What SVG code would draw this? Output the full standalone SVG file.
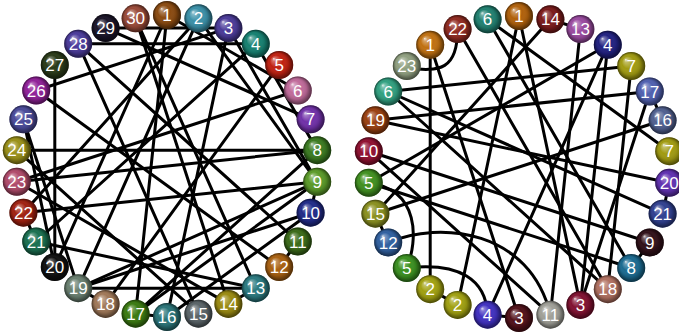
<svg xmlns="http://www.w3.org/2000/svg" width="679" height="335" viewBox="0 0 679 335">
<defs>
<radialGradient id="hl" cx="0.5" cy="0.5" r="0.5" fx="0.3" fy="0.27">
<stop offset="0" stop-color="#fff" stop-opacity="0.85"/>
<stop offset="0.14" stop-color="#fff" stop-opacity="0.35"/>
<stop offset="0.45" stop-color="#fff" stop-opacity="0"/>
<stop offset="0.75" stop-color="#000" stop-opacity="0.12"/>
<stop offset="1" stop-color="#000" stop-opacity="0.55"/>
</radialGradient>
<style>
.e{stroke:#000;stroke-width:3;fill:none;stroke-linecap:round}
.s{fill:url(#hl)}
text{font-family:"Liberation Sans",Arial,sans-serif;font-size:17px;fill:#fff;text-anchor:middle}
</style>
</defs>
<rect width="679" height="335" fill="#fff"/>
<g id="left-connectors">
<line class="e" x1="78.2" y1="288.2" x2="255.8" y2="288.2"/>
<line class="e" x1="78.2" y1="43.8" x2="198.4" y2="313.7"/>
<line class="e" x1="16.8" y1="181.8" x2="317.2" y2="150.2"/>
<line class="e" x1="16.8" y1="150.2" x2="317.2" y2="150.2"/>
<line class="e" x1="78.2" y1="288.2" x2="310.6" y2="212.7"/>
<line class="e" x1="78.2" y1="288.2" x2="317.2" y2="181.8"/>
<line class="e" x1="36.2" y1="241.5" x2="255.8" y2="288.2"/>
<line class="e" x1="135.6" y1="18.3" x2="255.8" y2="288.2"/>
<line class="e" x1="135.6" y1="18.3" x2="228.4" y2="303.9"/>
<line class="e" x1="23.4" y1="212.7" x2="317.2" y2="181.8"/>
<line class="e" x1="135.6" y1="313.7" x2="317.2" y2="150.2"/>
<line class="e" x1="167" y1="317" x2="310.6" y2="212.7"/>
<line class="e" x1="135.6" y1="313.7" x2="317.2" y2="181.8"/>
<line class="e" x1="105.6" y1="28.1" x2="228.4" y2="28.1"/>
<line class="e" x1="78.2" y1="43.8" x2="255.8" y2="43.8"/>
<line class="e" x1="167" y1="15" x2="54.8" y2="267"/>
<line class="e" x1="198.4" y1="18.3" x2="78.2" y2="288.2"/>
<line class="e" x1="23.4" y1="119.3" x2="54.8" y2="267"/>
<line class="e" x1="54.8" y1="65" x2="54.8" y2="267"/>
<line class="e" x1="228.4" y1="28.1" x2="167" y2="317"/>
<line class="e" x1="255.8" y1="43.8" x2="36.2" y2="241.5"/>
<line class="e" x1="279.2" y1="65" x2="105.6" y2="303.9"/>
<line class="e" x1="297.8" y1="90.5" x2="16.8" y2="181.8"/>
<line class="e" x1="105.6" y1="28.1" x2="310.6" y2="119.3"/>
<line class="e" x1="198.4" y1="18.3" x2="317.2" y2="181.8"/>
<line class="e" x1="255.8" y1="43.8" x2="317.2" y2="150.2"/>
<line class="e" x1="228.4" y1="28.1" x2="317.2" y2="181.8"/>
<line class="e" x1="167" y1="15" x2="297.8" y2="90.5"/>
<line class="e" x1="36.2" y1="90.5" x2="228.4" y2="28.1"/>
<line class="e" x1="279.2" y1="267" x2="36.2" y2="90.5"/>
<line class="e" x1="16.8" y1="181.8" x2="228.4" y2="303.9"/>
<line class="e" x1="16.8" y1="150.2" x2="198.4" y2="313.7"/>
<line class="e" x1="297.8" y1="241.5" x2="279.2" y2="267"/>
<line class="e" x1="317.2" y1="181.8" x2="310.6" y2="212.7"/>
<line class="e" x1="255.8" y1="288.2" x2="228.4" y2="303.9"/>
<line class="e" x1="167" y1="15" x2="135.6" y2="313.7"/>
<line class="e" x1="198.4" y1="18.3" x2="23.4" y2="212.7"/>
<line class="e" x1="23.4" y1="119.3" x2="78.2" y2="288.2"/>
<line class="e" x1="78.2" y1="43.8" x2="297.8" y2="241.5"/>
<line class="e" x1="167" y1="317" x2="135.6" y2="313.7"/>
<line class="e" x1="105.6" y1="303.9" x2="78.2" y2="288.2"/>
<line class="e" x1="36.2" y1="241.5" x2="23.4" y2="212.7"/>
</g>
<g id="right-connectors">
<path class="e" d="M457.6,29.1 C457.6,70 440,72 406.8,68"/>
<path class="e" d="M368.8,182.8 C420,190 418,240 406.8,268"/>
<path class="e" d="M406.8,268 C460,262 486,280 487.6,314.7"/>
<path class="e" d="M388.2,242.5 C440,220 530,230 550.4,314.7"/>
<line class="e" x1="430.2" y1="44.8" x2="430.2" y2="289.2"/>
<line class="e" x1="430.2" y1="44.8" x2="519" y2="318"/>
<line class="e" x1="487.6" y1="19.3" x2="669.2" y2="151.2"/>
<line class="e" x1="487.6" y1="19.3" x2="631.2" y2="268"/>
<line class="e" x1="519" y1="16" x2="457.6" y2="304.9"/>
<line class="e" x1="519" y1="16" x2="580.4" y2="304.9"/>
<line class="e" x1="550.4" y1="19.3" x2="580.4" y2="29.1"/>
<line class="e" x1="550.4" y1="19.3" x2="375.4" y2="213.7"/>
<line class="e" x1="580.4" y1="29.1" x2="550.4" y2="314.7"/>
<line class="e" x1="607.8" y1="44.8" x2="368.8" y2="182.8"/>
<line class="e" x1="607.8" y1="44.8" x2="487.6" y2="314.7"/>
<line class="e" x1="607.8" y1="44.8" x2="580.4" y2="304.9"/>
<line class="e" x1="631.2" y1="66" x2="607.8" y2="289.2"/>
<line class="e" x1="631.2" y1="66" x2="388.2" y2="91.5"/>
<line class="e" x1="649.8" y1="91.5" x2="375.4" y2="120.3"/>
<line class="e" x1="649.8" y1="91.5" x2="662.6" y2="120.3"/>
<line class="e" x1="662.6" y1="120.3" x2="375.4" y2="213.7"/>
<line class="e" x1="375.4" y1="120.3" x2="669.2" y2="182.8"/>
<line class="e" x1="669.2" y1="182.8" x2="662.6" y2="213.7"/>
<line class="e" x1="388.2" y1="91.5" x2="607.8" y2="289.2"/>
<line class="e" x1="388.2" y1="91.5" x2="662.6" y2="213.7"/>
<line class="e" x1="368.8" y1="182.8" x2="631.2" y2="268"/>
<line class="e" x1="375.4" y1="213.7" x2="388.2" y2="242.5"/>
<line class="e" x1="457.6" y1="304.9" x2="430.2" y2="289.2"/>
<line class="e" x1="487.6" y1="314.7" x2="519" y2="318"/>
<line class="e" x1="368.8" y1="151.2" x2="649.8" y2="242.5"/>
<line class="e" x1="649.8" y1="242.5" x2="631.2" y2="268"/>
<line class="e" x1="457.6" y1="29.1" x2="607.8" y2="289.2"/>
<line class="e" x1="368.8" y1="151.2" x2="550.4" y2="314.7"/>
<line class="e" x1="649.8" y1="91.5" x2="580.4" y2="304.9"/>
</g>
<g id="L1"><circle cx="167" cy="15" r="14" fill="#8a4a10"/><circle class="s" cx="167" cy="15" r="14"/><text x="167" y="21">1</text></g>
<g id="L2"><circle cx="198.4" cy="18.3" r="14" fill="#3a90a8"/><circle class="s" cx="198.4" cy="18.3" r="14"/><text x="198.4" y="24.3">2</text></g>
<g id="L3"><circle cx="228.4" cy="28.1" r="14" fill="#4a3a98"/><circle class="s" cx="228.4" cy="28.1" r="14"/><text x="228.4" y="34.1">3</text></g>
<g id="L4"><circle cx="255.8" cy="43.8" r="14" fill="#158070"/><circle class="s" cx="255.8" cy="43.8" r="14"/><text x="255.8" y="49.8">4</text></g>
<g id="L5"><circle cx="279.2" cy="65" r="14" fill="#c02010"/><circle class="s" cx="279.2" cy="65" r="14"/><text x="279.2" y="71">5</text></g>
<g id="L6"><circle cx="297.8" cy="90.5" r="14" fill="#c06a9a"/><circle class="s" cx="297.8" cy="90.5" r="14"/><text x="297.8" y="96.5">6</text></g>
<g id="L7"><circle cx="310.6" cy="119.3" r="14" fill="#7030a8"/><circle class="s" cx="310.6" cy="119.3" r="14"/><text x="310.6" y="125.3">7</text></g>
<g id="L8"><circle cx="317.2" cy="150.2" r="14" fill="#3a7a20"/><circle class="s" cx="317.2" cy="150.2" r="14"/><text x="317.2" y="156.2">8</text></g>
<g id="L9"><circle cx="317.2" cy="181.8" r="14" fill="#5a9a28"/><circle class="s" cx="317.2" cy="181.8" r="14"/><text x="317.2" y="187.8">9</text></g>
<g id="L10"><circle cx="310.6" cy="212.7" r="14" fill="#202a88"/><circle class="s" cx="310.6" cy="212.7" r="14"/><text x="310.6" y="218.7">10</text></g>
<g id="L11"><circle cx="297.8" cy="241.5" r="14" fill="#3a6a18"/><circle class="s" cx="297.8" cy="241.5" r="14"/><text x="297.8" y="247.5">11</text></g>
<g id="L12"><circle cx="279.2" cy="267" r="14" fill="#a86010"/><circle class="s" cx="279.2" cy="267" r="14"/><text x="279.2" y="273">12</text></g>
<g id="L13"><circle cx="255.8" cy="288.2" r="14" fill="#2a7a80"/><circle class="s" cx="255.8" cy="288.2" r="14"/><text x="255.8" y="294.2">13</text></g>
<g id="L14"><circle cx="228.4" cy="303.9" r="14" fill="#9a8a10"/><circle class="s" cx="228.4" cy="303.9" r="14"/><text x="228.4" y="309.9">14</text></g>
<g id="L15"><circle cx="198.4" cy="313.7" r="14" fill="#5a6468"/><circle class="s" cx="198.4" cy="313.7" r="14"/><text x="198.4" y="319.7">15</text></g>
<g id="L16"><circle cx="167" cy="317" r="14" fill="#2a7478"/><circle class="s" cx="167" cy="317" r="14"/><text x="167" y="323">16</text></g>
<g id="L17"><circle cx="135.6" cy="313.7" r="14" fill="#3a7a10"/><circle class="s" cx="135.6" cy="313.7" r="14"/><text x="135.6" y="319.7">17</text></g>
<g id="L18"><circle cx="105.6" cy="303.9" r="14" fill="#a07858"/><circle class="s" cx="105.6" cy="303.9" r="14"/><text x="105.6" y="309.9">18</text></g>
<g id="L19"><circle cx="78.2" cy="288.2" r="14" fill="#6a8070"/><circle class="s" cx="78.2" cy="288.2" r="14"/><text x="78.2" y="294.2">19</text></g>
<g id="L20"><circle cx="54.8" cy="267" r="14" fill="#101010"/><circle class="s" cx="54.8" cy="267" r="14"/><text x="54.8" y="273">20</text></g>
<g id="L21"><circle cx="36.2" cy="241.5" r="14" fill="#1a7050"/><circle class="s" cx="36.2" cy="241.5" r="14"/><text x="36.2" y="247.5">21</text></g>
<g id="L22"><circle cx="23.4" cy="212.7" r="14" fill="#a02010"/><circle class="s" cx="23.4" cy="212.7" r="14"/><text x="23.4" y="218.7">22</text></g>
<g id="L23"><circle cx="16.8" cy="181.8" r="14" fill="#b04a6a"/><circle class="s" cx="16.8" cy="181.8" r="14"/><text x="16.8" y="187.8">23</text></g>
<g id="L24"><circle cx="16.8" cy="150.2" r="14" fill="#9a9018"/><circle class="s" cx="16.8" cy="150.2" r="14"/><text x="16.8" y="156.2">24</text></g>
<g id="L25"><circle cx="23.4" cy="119.3" r="14" fill="#4a4a9a"/><circle class="s" cx="23.4" cy="119.3" r="14"/><text x="23.4" y="125.3">25</text></g>
<g id="L26"><circle cx="36.2" cy="90.5" r="14" fill="#902098"/><circle class="s" cx="36.2" cy="90.5" r="14"/><text x="36.2" y="96.5">26</text></g>
<g id="L27"><circle cx="54.8" cy="65" r="14" fill="#2a3a18"/><circle class="s" cx="54.8" cy="65" r="14"/><text x="54.8" y="71">27</text></g>
<g id="L28"><circle cx="78.2" cy="43.8" r="14" fill="#4a3a9a"/><circle class="s" cx="78.2" cy="43.8" r="14"/><text x="78.2" y="49.8">28</text></g>
<g id="L29"><circle cx="105.6" cy="28.1" r="14" fill="#1a1428"/><circle class="s" cx="105.6" cy="28.1" r="14"/><text x="105.6" y="34.1">29</text></g>
<g id="L30"><circle cx="135.6" cy="18.3" r="14" fill="#9a4a38"/><circle class="s" cx="135.6" cy="18.3" r="14"/><text x="135.6" y="24.3">30</text></g>
<g id="R0"><circle cx="519" cy="16" r="14" fill="#b0600a"/><circle class="s" cx="519" cy="16" r="14"/><text x="519" y="22">1</text></g>
<g id="R1"><circle cx="550.4" cy="19.3" r="14" fill="#7a1a1a"/><circle class="s" cx="550.4" cy="19.3" r="14"/><text x="550.4" y="25.3">14</text></g>
<g id="R2"><circle cx="580.4" cy="29.1" r="14" fill="#9a4aa0"/><circle class="s" cx="580.4" cy="29.1" r="14"/><text x="580.4" y="35.1">13</text></g>
<g id="R3"><circle cx="607.8" cy="44.8" r="14" fill="#202080"/><circle class="s" cx="607.8" cy="44.8" r="14"/><text x="607.8" y="50.8">4</text></g>
<g id="R4"><circle cx="631.2" cy="66" r="14" fill="#a09a10"/><circle class="s" cx="631.2" cy="66" r="14"/><text x="631.2" y="72">7</text></g>
<g id="R5"><circle cx="649.8" cy="91.5" r="14" fill="#5060b0"/><circle class="s" cx="649.8" cy="91.5" r="14"/><text x="649.8" y="97.5">17</text></g>
<g id="R6"><circle cx="662.6" cy="120.3" r="14" fill="#506090"/><circle class="s" cx="662.6" cy="120.3" r="14"/><text x="662.6" y="126.3">16</text></g>
<g id="R7"><circle cx="669.2" cy="151.2" r="14" fill="#a09a10"/><circle class="s" cx="669.2" cy="151.2" r="14"/><text x="669.2" y="157.2">7</text></g>
<g id="R8"><circle cx="669.2" cy="182.8" r="14" fill="#6030b0"/><circle class="s" cx="669.2" cy="182.8" r="14"/><text x="669.2" y="188.8">20</text></g>
<g id="R9"><circle cx="662.6" cy="213.7" r="14" fill="#304090"/><circle class="s" cx="662.6" cy="213.7" r="14"/><text x="662.6" y="219.7">21</text></g>
<g id="R10"><circle cx="649.8" cy="242.5" r="14" fill="#301018"/><circle class="s" cx="649.8" cy="242.5" r="14"/><text x="649.8" y="248.5">9</text></g>
<g id="R11"><circle cx="631.2" cy="268" r="14" fill="#1a6a90"/><circle class="s" cx="631.2" cy="268" r="14"/><text x="631.2" y="274">8</text></g>
<g id="R12"><circle cx="607.8" cy="289.2" r="14" fill="#b07060"/><circle class="s" cx="607.8" cy="289.2" r="14"/><text x="607.8" y="295.2">18</text></g>
<g id="R13"><circle cx="580.4" cy="304.9" r="14" fill="#801030"/><circle class="s" cx="580.4" cy="304.9" r="14"/><text x="580.4" y="310.9">3</text></g>
<g id="R14"><circle cx="550.4" cy="314.7" r="14" fill="#a0a098"/><circle class="s" cx="550.4" cy="314.7" r="14"/><text x="550.4" y="320.7">11</text></g>
<g id="R15"><circle cx="519" cy="318" r="14" fill="#501018"/><circle class="s" cx="519" cy="318" r="14"/><text x="519" y="324">3</text></g>
<g id="R16"><circle cx="487.6" cy="314.7" r="14" fill="#4030c0"/><circle class="s" cx="487.6" cy="314.7" r="14"/><text x="487.6" y="320.7">4</text></g>
<g id="R17"><circle cx="457.6" cy="304.9" r="14" fill="#a0a010"/><circle class="s" cx="457.6" cy="304.9" r="14"/><text x="457.6" y="310.9">2</text></g>
<g id="R18"><circle cx="430.2" cy="289.2" r="14" fill="#a0a010"/><circle class="s" cx="430.2" cy="289.2" r="14"/><text x="430.2" y="295.2">2</text></g>
<g id="R19"><circle cx="406.8" cy="268" r="14" fill="#3a9020"/><circle class="s" cx="406.8" cy="268" r="14"/><text x="406.8" y="274">5</text></g>
<g id="R20"><circle cx="388.2" cy="242.5" r="14" fill="#3060a0"/><circle class="s" cx="388.2" cy="242.5" r="14"/><text x="388.2" y="248.5">12</text></g>
<g id="R21"><circle cx="375.4" cy="213.7" r="14" fill="#8a9020"/><circle class="s" cx="375.4" cy="213.7" r="14"/><text x="375.4" y="219.7">15</text></g>
<g id="R22"><circle cx="368.8" cy="182.8" r="14" fill="#409020"/><circle class="s" cx="368.8" cy="182.8" r="14"/><text x="368.8" y="188.8">5</text></g>
<g id="R23"><circle cx="368.8" cy="151.2" r="14" fill="#901030"/><circle class="s" cx="368.8" cy="151.2" r="14"/><text x="368.8" y="157.2">10</text></g>
<g id="R24"><circle cx="375.4" cy="120.3" r="14" fill="#9a4010"/><circle class="s" cx="375.4" cy="120.3" r="14"/><text x="375.4" y="126.3">19</text></g>
<g id="R25"><circle cx="388.2" cy="91.5" r="14" fill="#30a080"/><circle class="s" cx="388.2" cy="91.5" r="14"/><text x="388.2" y="97.5">6</text></g>
<g id="R26"><circle cx="406.8" cy="66" r="14" fill="#90a080"/><circle class="s" cx="406.8" cy="66" r="14"/><text x="406.8" y="72">23</text></g>
<g id="R27"><circle cx="430.2" cy="44.8" r="14" fill="#c07010"/><circle class="s" cx="430.2" cy="44.8" r="14"/><text x="430.2" y="50.8">1</text></g>
<g id="R28"><circle cx="457.6" cy="29.1" r="14" fill="#902a20"/><circle class="s" cx="457.6" cy="29.1" r="14"/><text x="457.6" y="35.1">22</text></g>
<g id="R29"><circle cx="487.6" cy="19.3" r="14" fill="#208070"/><circle class="s" cx="487.6" cy="19.3" r="14"/><text x="487.6" y="25.3">6</text></g>
</svg>
